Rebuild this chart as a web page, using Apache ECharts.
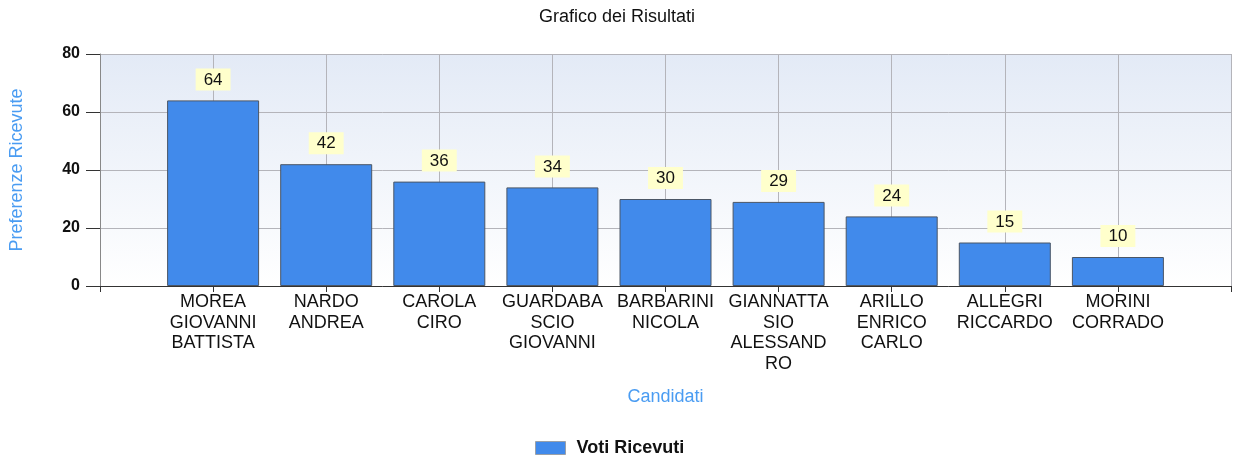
<!DOCTYPE html>
<html>
<head>
<meta charset="utf-8">
<script src="https://cdn.jsdelivr.net/npm/echarts@6/dist/echarts.min.js"></script>
<style>html,body{margin:0;padding:0;background:#fff}#c{width:1234px;height:459px}</style>
</head>
<body>
<div id="c"></div>
<script>
const categories = [
  'MOREA\nGIOVANNI\nBATTISTA',
  'NARDO\nANDREA',
  'CAROLA\nCIRO',
  'GUARDABA\nSCIO\nGIOVANNI',
  'BARBARINI\nNICOLA',
  'GIANNATTA\nSIO\nALESSAND\nRO',
  'ARILLO\nENRICO\nCARLO',
  'ALLEGRI\nRICCARDO',
  'MORINI\nCORRADO'
];
const votes = [64, 42, 36, 34, 30, 29, 24, 15, 10];
const seriesName = 'Voti Ricevuti';
const yTicks = { min: 0, max: 80, interval: 20 };

const axisData = [''].concat(categories, ['']);
const seriesData = ['-'].concat(votes, ['-']);

const chart = echarts.init(document.getElementById('c'), null, { renderer: 'canvas' });
const font = '"Liberation Sans", Arial, sans-serif';
chart.setOption({
  animation: false,
  title: {
    text: 'Grafico dei Risultati',
    left: 'center', top: 3,
    textStyle: { fontFamily: font, fontSize: 18, fontWeight: 'normal', color: '#111' }
  },
  legend: {
    top: 434, left: 530,
    itemWidth: 30, itemHeight: 13,
    icon: 'rect',
    itemStyle: { borderColor: '#9AA0A8', borderWidth: 1 },
    textStyle: { fontFamily: font, fontSize: 18, fontWeight: 'bold', color: '#111', padding: [0, 0, 0, 6] },
    data: [seriesName]
  },
  grid: {
    left: 100, right: 3, top: 54, bottom: 173,
    show: true, borderWidth: 0,
    backgroundColor: new echarts.graphic.LinearGradient(0, 0, 0, 1, [
      { offset: 0, color: '#E3EAF6' },
      { offset: 1, color: '#FFFFFF' }
    ])
  },
  xAxis: {
    type: 'category',
    data: axisData,
    boundaryGap: false,
    name: 'Candidati',
    nameLocation: 'middle',
    nameGap: 102,
    nameTextStyle: { fontFamily: font, fontSize: 18, color: '#4A9CF2' },
    axisLine: { lineStyle: { color: '#333', width: 1 } },
    axisTick: { show: true, interval: 0, length: 6, lineStyle: { color: '#333' } },
    axisLabel: { interval: 0, fontFamily: font, fontSize: 18, color: '#111', lineHeight: 20.5, margin: 6 },
    splitLine: { show: true, interval: 0, lineStyle: { color: '#B4B4BA', width: 1 } }
  },
  yAxis: {
    type: 'value',
    min: yTicks.min, max: yTicks.max, interval: yTicks.interval,
    name: 'Preferenze Ricevute',
    nameLocation: 'middle',
    nameGap: 74,
    nameTextStyle: { fontFamily: font, fontSize: 18, color: '#4A9CF2' },
    axisLine: { show: true, lineStyle: { color: '#888', width: 1 } },
    axisTick: { show: true, length: 14, lineStyle: { color: '#333' } },
    axisLabel: { fontFamily: font, fontSize: 16, color: '#111', margin: 20, fontWeight: 'bold' },
    splitLine: { show: true, lineStyle: { color: '#B4B4BA', width: 1 } }
  },
  series: [{
    name: seriesName,
    type: 'bar',
    data: seriesData,
    barWidth: 92,
    itemStyle: { color: '#418AEB', borderColor: '#4A5666', borderWidth: 1 },
    label: {
      show: true, position: 'top', distance: 10,
      fontFamily: font, fontSize: 17, color: '#111',
      backgroundColor: '#FFFFCC', padding: [3, 8, 2, 8]
    }
  }]
});
</script>
</body>
</html>
